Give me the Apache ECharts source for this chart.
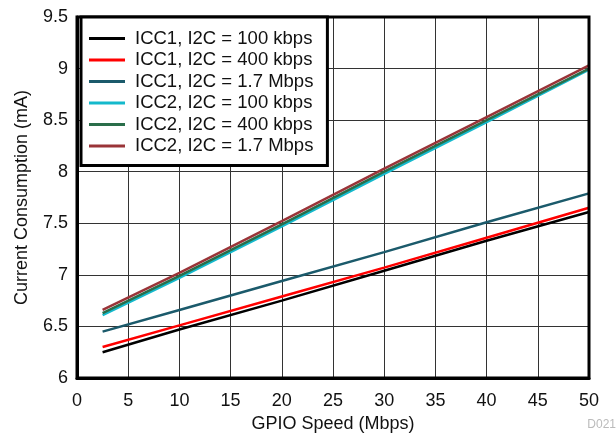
<!DOCTYPE html>
<html>
<head>
<meta charset="utf-8">
<script src="https://cdn.jsdelivr.net/npm/echarts@6/dist/echarts.min.js"></script>
<style>
html,body{margin:0;padding:0;background:#fff;}
#c{width:616px;height:434px;}
</style>
</head>
<body>
<div id="c"></div>
<script>
const speeds = [2.5, 10, 20, 30, 40, 50];
const icc1_100k = [6.25, 6.47, 6.75, 7.04, 7.33, 7.61];
const icc1_400k = [6.30, 6.51, 6.79, 7.07, 7.36, 7.65];
const icc1_1m7 = [6.45, 6.66, 6.94, 7.22, 7.51, 7.79];
const icc2_100k = [6.61, 6.97, 7.47, 7.98, 8.48, 8.99];
const icc2_400k = [6.63, 6.99, 7.49, 8.00, 8.50, 9.00];
const icc2_1m7 = [6.66, 7.02, 7.52, 8.03, 8.53, 9.03];
const seriesNames = ['ICC1, I2C = 100 kbps','ICC1, I2C = 400 kbps','ICC1, I2C = 1.7 Mbps','ICC2, I2C = 100 kbps','ICC2, I2C = 400 kbps','ICC2, I2C = 1.7 Mbps'];
const seriesData = [icc1_100k, icc1_400k, icc1_1m7, icc2_100k, icc2_400k, icc2_1m7];
const colors = ['#000000','#ff0000','#1b5a6b','#14b9cc','#2a6e4a','#9a3438'];

const font = 'Liberation Sans, Arial, Helvetica, sans-serif';
const chart = echarts.init(document.getElementById('c'));
chart.setOption({
  animation: false,
  grid: {left: 77, right: 27, top: 17, bottom: 56, show: true, borderColor: '#000', borderWidth: 3, z: 3, outerBoundsMode: 'none', containLabel: false},
  legend: {
    orient: 'vertical', left: 81, top: 17,
    data: seriesNames, icon: 'rect', itemWidth: 36, itemHeight: 3,
    itemGap: 2.5,
    backgroundColor: '#fff', borderColor: '#000', borderWidth: 3,
    padding: [12, 14, 10, 8],
    textStyle: {fontFamily: font, fontSize: 18.5, color: '#111', lineHeight: 18, padding: [0,0,0,5]},
    z: 10
  },
  xAxis: {
    type: 'value', min: 0, max: 50, interval: 5,
    name: 'GPIO Speed (Mbps)', nameLocation: 'middle', nameGap: 36,
    nameTextStyle: {fontFamily: font, fontSize: 18, color: '#111'},
    axisLine: {show: true, lineStyle: {color: '#000', width: 3}},
    axisTick: {show: false},
    axisLabel: {fontFamily: font, fontSize: 18, color: '#111', margin: 14},
    splitLine: {show: true, lineStyle: {color: '#333', width: 1}}
  },
  yAxis: {
    type: 'value', min: 6, max: 9.5, interval: 0.5,
    name: 'Current Consumption (mA)', nameLocation: 'middle', nameGap: 46,
    nameTextStyle: {fontFamily: font, fontSize: 18, color: '#111'},
    axisLine: {show: true, lineStyle: {color: '#000', width: 3}},
    axisTick: {show: false},
    axisLabel: {fontFamily: font, fontSize: 18, color: '#111', margin: 9},
    splitLine: {show: true, lineStyle: {color: '#333', width: 1}}
  },
  graphic: [{type: 'text', right: 0, top: 419, style: {text: 'D021', fontFamily: font, fontSize: 12, fill: '#bbb'}}],
  series: seriesNames.map((n, i) => ({
    name: n, type: 'line', showSymbol: false, symbol: 'none',
    data: speeds.map((s, j) => [s, seriesData[i][j]]),
    lineStyle: {color: colors[i], width: 2.5},
    itemStyle: {color: colors[i]},
    z: 2
  }))
});
</script>
</body>
</html>
